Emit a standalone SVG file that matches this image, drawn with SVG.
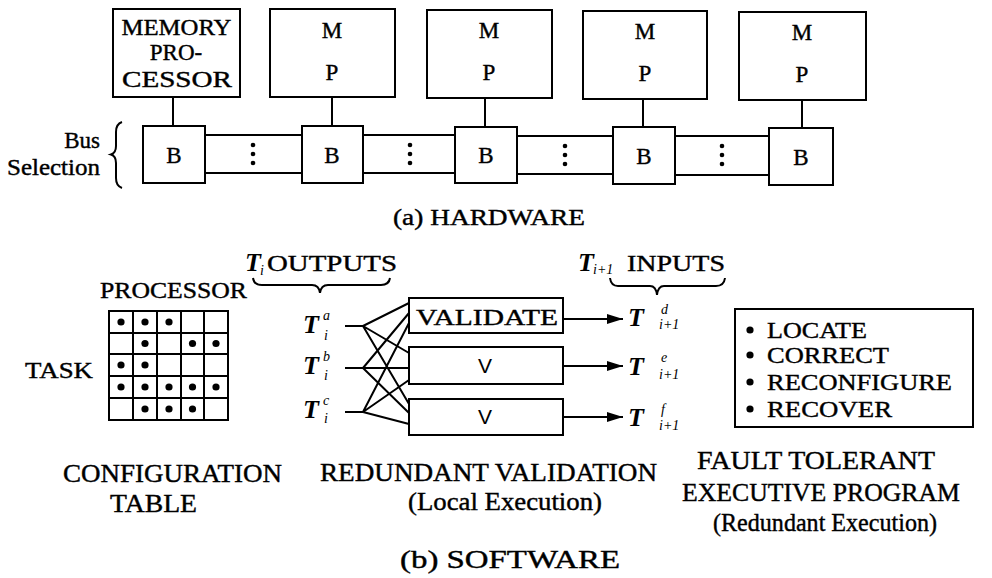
<svg xmlns="http://www.w3.org/2000/svg" width="992" height="578" viewBox="0 0 992 578" font-family="'Liberation Serif', 'DejaVu Serif', serif">
<defs>
<style>
.box{fill:none;stroke:#000;stroke-width:2}
.ln{fill:none;stroke:#000;stroke-width:2}
.t{font-family:'Liberation Serif','DejaVu Serif','Times New Roman',serif;fill:#000;stroke:#000;stroke-width:0.4;font-size:23px}
.l24{font-size:24px}
.l26{font-size:25px}
.it{font-style:italic;font-weight:bold;font-size:26px;stroke-width:0}
.sm{font-family:'Liberation Serif','DejaVu Serif',serif;font-style:italic;font-size:14px;fill:#000}
.sans{font-family:'Liberation Sans','DejaVu Sans',Arial,sans-serif;font-size:21px;fill:#000}
.dot{fill:#000}
</style>
<marker id="ah" viewBox="0 0 16 10" refX="16" refY="5" markerWidth="16" markerHeight="10" markerUnits="userSpaceOnUse" orient="auto">
<path d="M0,0 L16,5 L0,10 Z" fill="#000"/>
</marker>
</defs>
<rect width="992" height="578" fill="#fff"/>

<!-- HARDWARE -->
<g id="mp1"><rect class="box" x="113" y="9" width="127" height="88"/>
<text class="t" x="176.5" y="35" text-anchor="middle" textLength="110" lengthAdjust="spacingAndGlyphs">MEMORY</text>
<text class="t" x="176" y="60" text-anchor="middle">PRO-</text>
<text class="t" x="177" y="87" text-anchor="middle" textLength="110" lengthAdjust="spacingAndGlyphs">CESSOR</text></g>
<g id="mp2"><rect class="box" x="270" y="9" width="125" height="88"/>
<text class="t" x="332" y="38" text-anchor="middle">M</text><text class="t" x="332" y="80" text-anchor="middle">P</text></g>
<g id="mp3"><rect class="box" x="427" y="10" width="125" height="88"/>
<text class="t" x="489" y="38" text-anchor="middle">M</text><text class="t" x="489" y="80" text-anchor="middle">P</text></g>
<g id="mp4"><rect class="box" x="583" y="11" width="124" height="88"/>
<text class="t" x="645" y="39" text-anchor="middle">M</text><text class="t" x="645" y="81" text-anchor="middle">P</text></g>
<g id="mp5"><rect class="box" x="739" y="12" width="127" height="88"/>
<text class="t" x="802" y="40" text-anchor="middle">M</text><text class="t" x="802" y="82" text-anchor="middle">P</text></g>

<g id="b1"><rect class="box" x="143" y="126" width="62" height="57"/><text class="t" x="174" y="163" text-anchor="middle">B</text></g>
<g id="b2"><rect class="box" x="302" y="126" width="61" height="57"/><text class="t" x="332" y="163" text-anchor="middle">B</text></g>
<g id="b3"><rect class="box" x="455" y="127" width="62" height="56"/><text class="t" x="486" y="163" text-anchor="middle">B</text></g>
<g id="b4"><rect class="box" x="613" y="127" width="62" height="57"/><text class="t" x="644" y="164" text-anchor="middle">B</text></g>
<g id="b5"><rect class="box" x="769" y="128" width="64" height="57"/><text class="t" x="801" y="165" text-anchor="middle">B</text></g>

<g id="busLabel">
<text class="t" x="100" y="148" text-anchor="end">Bus</text>
<text class="t" x="100" y="175" text-anchor="end" textLength="93" lengthAdjust="spacingAndGlyphs">Selection</text>
<path class="ln" stroke-width="2.2" d="M122,122 Q116,124 116,132 L116,146 Q116,153 111,154.5 Q116,156 116,163 L116,178 Q116,186 122,188"/>
</g>
<text class="t" x="393" y="225" textLength="192" lengthAdjust="spacingAndGlyphs">(a) HARDWARE</text>

<g id="hwConnectors">
<line class="ln" x1="173" y1="97" x2="173" y2="126"/>
<line class="ln" x1="332" y1="97" x2="332" y2="126"/>
<line class="ln" x1="485" y1="98" x2="485" y2="127"/>
<line class="ln" x1="643" y1="99" x2="643" y2="127"/>
<line class="ln" x1="802" y1="100" x2="802" y2="128"/>
<path class="ln" d="M205,135 H302 M205,173 H302 M363,135 H455 M363,173 H455 M517,136 H613 M517,174 H613 M675,136 H769 M675,175 H769"/>
<g class="dot">
<circle cx="253" cy="145" r="2.3"/><circle cx="253" cy="154" r="2.3"/><circle cx="253" cy="163" r="2.3"/>
<circle cx="410" cy="145" r="2.3"/><circle cx="410" cy="154" r="2.3"/><circle cx="410" cy="163" r="2.3"/>
<circle cx="565" cy="146" r="2.3"/><circle cx="565" cy="155" r="2.3"/><circle cx="565" cy="164" r="2.3"/>
<circle cx="722" cy="146" r="2.3"/><circle cx="722" cy="155" r="2.3"/><circle cx="722" cy="164" r="2.3"/>
</g>
</g>

<!-- SOFTWARE: configuration table -->
<g id="configTable">
<text class="t" x="100" y="298" textLength="147" lengthAdjust="spacingAndGlyphs">PROCESSOR</text>
<text class="t" x="25" y="378" textLength="68" lengthAdjust="spacingAndGlyphs">TASK</text>
<rect class="box" x="109" y="311" width="119" height="109"/>
<path class="ln" stroke-width="1.6" d="M133,311 V420 M157,311 V420 M181,311 V420 M204,311 V420 M109,333 H228 M109,354 H228 M109,376 H228 M109,398 H228"/>
<g class="dot">
<circle cx="121" cy="322" r="3.6"/><circle cx="145" cy="322" r="3.6"/><circle cx="169" cy="322" r="3.6"/>
<circle cx="145" cy="343.5" r="3.6"/><circle cx="192.5" cy="343.5" r="3.6"/><circle cx="216" cy="343.5" r="3.6"/>
<circle cx="121" cy="365" r="3.6"/><circle cx="145" cy="365" r="3.6"/>
<circle cx="121" cy="387" r="3.6"/><circle cx="145" cy="387" r="3.6"/><circle cx="169" cy="387" r="3.6"/><circle cx="192.5" cy="387" r="3.6"/><circle cx="216" cy="387" r="3.6"/>
<circle cx="145" cy="409" r="3.6"/><circle cx="169" cy="409" r="3.6"/><circle cx="192.5" cy="409" r="3.6"/>
</g>
<text class="t l26" x="63" y="482" textLength="219" lengthAdjust="spacingAndGlyphs">CONFIGURATION</text>
<text class="t l26" x="110" y="512" textLength="87" lengthAdjust="spacingAndGlyphs">TABLE</text>
</g>

<!-- outputs / inputs labels -->
<g id="outputsLabel">
<text class="t it" x="245" y="271">T</text><text class="sm" x="260" y="275">i</text>
<text class="t l24" x="267" y="271" textLength="130" lengthAdjust="spacingAndGlyphs">OUTPUTS</text>
<path class="ln" stroke-width="2" d="M253,278 Q254,285 262,285 L312,285 Q319,285 320,293 Q321,285 328,285 L381,285 Q389,285 390,278"/>
</g>
<g id="inputsLabel">
<text class="t it" x="578" y="271">T</text><text class="sm" x="593" y="274">i+1</text>
<text class="t l24" x="627" y="271" textLength="98" lengthAdjust="spacingAndGlyphs">INPUTS</text>
<path class="ln" stroke-width="2" d="M610,278 Q611,286 618,286 L650,286 Q656,286 657,295 Q658,286 664,286 L716,286 Q724,286 725,278"/>
</g>

<g id="ta"><text class="t it" x="303" y="333">T</text><text class="sm" x="323" y="320">a</text><text class="sm" x="324" y="340">i</text></g>
<g id="tb"><text class="t it" x="303" y="374">T</text><text class="sm" x="323" y="361">b</text><text class="sm" x="324" y="380">i</text></g>
<g id="tc"><text class="t it" x="303" y="418">T</text><text class="sm" x="323" y="405">c</text><text class="sm" x="324" y="423">i</text></g>

<g id="v1"><rect class="box" x="409" y="298" width="154" height="35"/>
<text class="t l24" x="416" y="325" textLength="142" lengthAdjust="spacingAndGlyphs">VALIDATE</text></g>
<g id="v2"><rect class="box" x="409" y="347" width="154" height="37"/>
<text class="sans" x="485" y="373" text-anchor="middle">V</text></g>
<g id="v3"><rect class="box" x="409" y="399" width="154" height="36"/>
<text class="sans" x="485" y="424" text-anchor="middle">V</text></g>

<g id="td"><text class="t it" x="628" y="326">T</text><text class="sm" x="661" y="314">d</text><text class="sm" x="659" y="329">i+1</text></g>
<g id="te"><text class="t it" x="628" y="375">T</text><text class="sm" x="661" y="362">e</text><text class="sm" x="659" y="379">i+1</text></g>
<g id="tf"><text class="t it" x="628" y="426">T</text><text class="sm" x="661" y="414">f</text><text class="sm" x="659" y="430">i+1</text></g>

<g id="swConnectors">
<path class="ln" d="M345,326 H363 M345,368 H363 M345,412 H363"/>
<path class="ln" stroke-width="2" d="M363,326 L409,303 M363,326 L409,353 M363,326 L409,404 M363,368 L409,313 M363,368 L409,368 M363,368 L409,413 M363,412 L409,323 M363,412 L409,380 M363,412 L409,424"/>
<line class="ln" x1="563" y1="319" x2="623" y2="319" marker-end="url(#ah)"/>
<line class="ln" x1="563" y1="366" x2="623" y2="366" marker-end="url(#ah)"/>
<line class="ln" x1="563" y1="417" x2="623" y2="417" marker-end="url(#ah)"/>
</g>

<text class="t l26" x="320" y="481" textLength="337" lengthAdjust="spacingAndGlyphs">REDUNDANT VALIDATION</text>
<text class="t l26" x="408" y="510" textLength="194" lengthAdjust="spacingAndGlyphs">(Local Execution)</text>

<g id="executive">
<rect class="box" x="735" y="309" width="238" height="118"/>
<g class="dot"><circle cx="750" cy="330" r="3.6"/><circle cx="750" cy="355" r="3.6"/><circle cx="750" cy="382" r="3.6"/><circle cx="750" cy="409" r="3.6"/></g>
<text class="t l24" x="767" y="338" textLength="100" lengthAdjust="spacingAndGlyphs">LOCATE</text>
<text class="t l24" x="767" y="363" textLength="122" lengthAdjust="spacingAndGlyphs">CORRECT</text>
<text class="t l24" x="767" y="390" textLength="185" lengthAdjust="spacingAndGlyphs">RECONFIGURE</text>
<text class="t l24" x="767" y="417" textLength="125" lengthAdjust="spacingAndGlyphs">RECOVER</text>
</g>
<text class="t l26" x="697" y="469" textLength="238" lengthAdjust="spacingAndGlyphs">FAULT TOLERANT</text>
<text class="t l26" x="682" y="501" textLength="278" lengthAdjust="spacingAndGlyphs">EXECUTIVE PROGRAM</text>
<text class="t l26" x="713" y="531" textLength="224" lengthAdjust="spacingAndGlyphs">(Redundant Execution)</text>
<text class="t l26" x="400" y="568" textLength="220" lengthAdjust="spacingAndGlyphs">(b) SOFTWARE</text>
</svg>
